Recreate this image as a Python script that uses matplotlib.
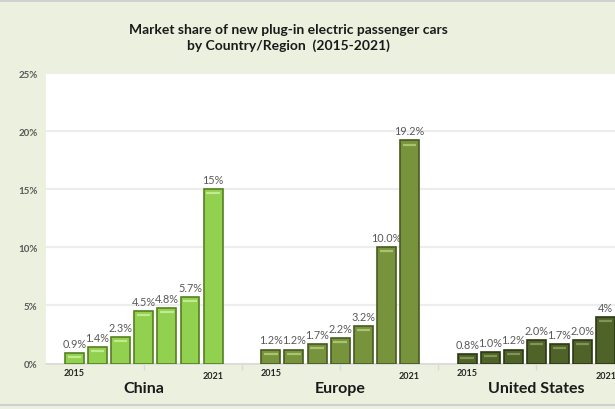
import matplotlib
matplotlib.use('Agg')
from matplotlib import pyplot as plt
from matplotlib import transforms
import numpy as np

groups = ['China', 'Europe', 'United States']
years = ['2015', '2016', '2017', '2018', '2019', '2020', '2021']
china = [0.9, 1.4, 2.3, 4.5, 4.8, 5.7, 15.0]
europe = [1.2, 1.2, 1.7, 2.2, 3.2, 10.0, 19.2]
usa = [0.8, 1.0, 1.2, 2.0, 1.7, 2.0, 4.0]
labels_china = ['0.9%', '1.4%', '2.3%', '4.5%', '4.8%', '5.7%', '15%']
labels_europe = ['1.2%', '1.2%', '1.7%', '2.2%', '3.2%', '10.0%', '19.2%']
labels_usa = ['0.8%', '1.0%', '1.2%', '2.0%', '1.7%', '2.0%', '4%']

series = [china, europe, usa]
series_labels = [labels_china, labels_europe, labels_usa]
faces = ['#92D050', '#77933C', '#4F6228']
edges = ['#55801F', '#485A22', '#2C3814']
lights = ['#C2EA8E', '#A9C46E', '#7F9456']

bg = '#EBF1DE'
plt.rcParams['font.family'] = ['Lato', 'DejaVu Sans']

fig = plt.figure(figsize=(6.15, 4.1), dpi=100, facecolor=bg)
ax = fig.add_axes([46 / 615, 45.5 / 410, 1 - 46 / 615, 290.5 / 410])
ax.set_facecolor('white')

gap = 8.5
width = 0.82
for g, (vals, labs) in enumerate(zip(series, series_labels)):
    x = np.arange(len(vals)) + gap * g
    ax.bar(x, vals, width=width, color=faces[g], edgecolor=edges[g],
           linewidth=1.2, zorder=3)
    # bevel highlight near the top of each bar
    hl = transforms.offset_copy(ax.transData, fig=fig, x=0, y=-3, units='points')
    for xi, v in zip(x, vals):
        ax.plot([xi - width / 2 + 0.12, xi + width / 2 - 0.12], [v, v],
                color=lights[g], lw=1.6, transform=hl, zorder=4,
                solid_capstyle='butt')
    for xi, v, t in zip(x, vals, labs):
        ax.annotate(t, (xi, v), xytext=(0, 3), textcoords='offset points',
                    ha='center', va='bottom', fontsize=7.8, color='#595959')
    ax.annotate(years[0], (x[0], 0), xytext=(0, -6.5), textcoords='offset points',
                ha='center', va='center', fontsize=6.5, fontweight='bold',
                color='#262626', annotation_clip=False)
    ax.annotate(years[-1], (x[-1], 0), xytext=(0, -8.3), textcoords='offset points',
                ha='center', va='center', fontsize=6.5, fontweight='bold',
                color='#262626', annotation_clip=False)
    ax.annotate(groups[g], (x[3], 0), xytext=(0, -17.5), textcoords='offset points',
                ha='center', va='center', fontsize=11.5, fontweight='bold',
                color='#1a1a1a', annotation_clip=False)

ax.set_xlim(-1.234, 23.4)
ax.set_ylim(0, 25)
ax.set_yticks(np.arange(0, 26, 5))
ax.set_yticklabels([f'{v}%' for v in range(0, 26, 5)], fontsize=7,
                   fontweight='bold', color='#595959')
ax.set_xticks(np.arange(-1.25 + 4.25, 23.4, 4.25))
ax.set_xticklabels([])
ax.tick_params(axis='x', length=4, color='#D9D9D9', width=1)
ax.tick_params(axis='y', length=0, pad=6)
ax.grid(axis='y', color='#EDEDED', lw=1.6, zorder=0)
for s in ['top', 'right', 'left']:
    ax.spines[s].set_visible(False)
ax.spines['bottom'].set_color('#D9D9D9')
ax.spines['bottom'].set_linewidth(1.2)

fig.text(288 / 615, 1 - 38 / 410,
         'Market share of new plug-in electric passenger cars\nby Country/Region  (2015-2021)',
         ha='center', va='center', fontsize=10, fontweight='bold',
         color='#1a1a1a', linespacing=1.35)

# thin gray frame lines at top and bottom of the figure
fig.add_artist(plt.Line2D([0, 1], [1 - 1 / 410, 1 - 1 / 410], color='#D0D0D0', lw=2,
                          transform=fig.transFigure))
fig.add_artist(plt.Line2D([0, 1], [4 / 410, 4 / 410], color='#D0D0D0', lw=1.5,
                          transform=fig.transFigure))

fig.savefig('out.png', dpi=100, facecolor=bg)
